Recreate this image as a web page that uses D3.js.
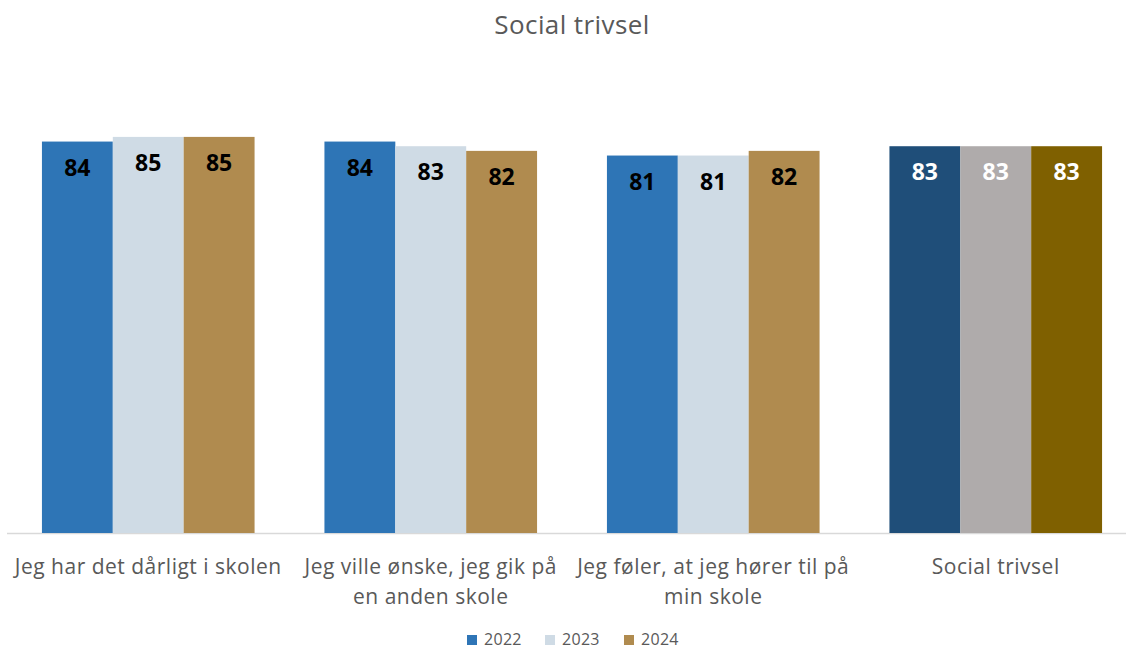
<!DOCTYPE html>
<html><head><meta charset="utf-8">
<script src="https://cdn.jsdelivr.net/npm/d3@7/dist/d3.min.js"></script>
<style>body{margin:0;background:#fff}svg{display:block}</style>
</head><body>
<script>
const categories = ["Jeg har det dårligt i skolen","Jeg ville ønske, jeg gik på en anden skole","Jeg føler, at jeg hører til på min skole","Social trivsel"];
const years = ["2022","2023","2024"];
const v2022 = [84,84,81,83];
const v2023 = [85,83,81,83];
const v2024 = [85,82,82,83];
const values = [v2022,v2023,v2024];
const colors = ["#2E75B6","#CFDBE5","#B08B4F"];
const colorsTotal = ["#1F4E79","#AFABAB","#7F6000"];

const W=1126,H=650;
const font="'Open Sans', sans-serif";
const svg=d3.select("body").append("svg").attr("width",W).attr("height",H);
const x0=d3.scaleBand().domain(categories).range([7,1137]).paddingInner(70/283).paddingOuter(35/283);
const x1=d3.scaleBand().domain(years).range([0,x0.bandwidth()]);
const y=d3.scaleLinear().domain([0,100]).range([533,67]);

svg.append("text").attr("x",572).attr("y",34).attr("text-anchor","middle")
  .attr("font-family",font).attr("font-size",26).attr("letter-spacing",0.4).attr("fill","#595959").text("Social trivsel");

svg.append("line").attr("x1",7).attr("x2",1137).attr("y1",y(0)+0.5).attr("y2",y(0)+0.5)
  .attr("stroke","#D9D9D9").attr("stroke-width",1.5);

categories.forEach((c,ci)=>{
  const g=svg.append("g").attr("transform",`translate(${x0(c)},0)`);
  years.forEach((yr,yi)=>{
    const v=values[yi][ci];
    const last=ci===categories.length-1;
    g.append("rect").attr("x",x1(yr)).attr("width",x1.bandwidth()).attr("y",y(v)).attr("height",y(0)-y(v))
      .attr("fill",last?colorsTotal[yi]:colors[yi]);
    g.append("text").attr("x",x1(yr)+x1.bandwidth()/2).attr("y",y(v)+34).attr("text-anchor","middle")
      .attr("font-family",font).attr("font-weight","bold").attr("font-size",23)
      .attr("fill",last?"#FFFFFF":"#000000").text(v);
  });
});

// x axis labels with wrapping
categories.forEach(c=>{
  const t=svg.append("text").attr("x",x0(c)+x0.bandwidth()/2).attr("y",574).attr("text-anchor","middle")
    .attr("font-family",font).attr("font-size",21).attr("letter-spacing",0.5).attr("fill","#595959");
  const words=c.split(" ");
  let line=[],lines=[];
  const tmp=t.append("tspan");
  words.forEach(w=>{
    line.push(w);tmp.text(line.join(" "));
    if(tmp.node().getComputedTextLength()>283 && line.length>1){line.pop();lines.push(line.join(" "));line=[w];}
  });
  lines.push(line.join(" "));tmp.remove();
  lines.forEach((l,i)=>t.append("tspan").attr("x",x0(c)+x0.bandwidth()/2).attr("dy",i?30:0).text(l));
});

// legend
const lx=[467,545,624];
years.forEach((yr,i)=>{
  svg.append("rect").attr("x",lx[i]).attr("y",635).attr("width",10).attr("height",10).attr("fill",colors[i]);
  svg.append("text").attr("x",lx[i]+17).attr("y",645).attr("font-family",font).attr("font-size",16).attr("letter-spacing",0.3)
    .attr("fill","#595959").text(yr);
});
</script>
</body></html>
